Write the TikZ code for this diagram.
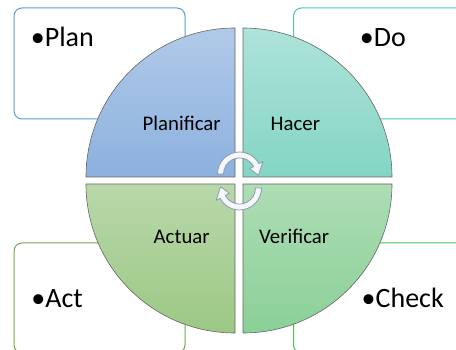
\documentclass[tikz,border=0pt]{standalone}
\usepackage{fontspec}
\setmainfont{Carlito}
\definecolor{bxblue}{HTML}{5B9BD5}
\definecolor{bxteal}{HTML}{4CC7B3}
\definecolor{bxgreen}{HTML}{70AD47}
\definecolor{bxgreenb}{HTML}{4CC25F}
\definecolor{qbluet}{HTML}{B1CAE9}
\definecolor{qblueb}{HTML}{8CB1DE}
\definecolor{qtealt}{HTML}{AEE3D9}
\definecolor{qtealb}{HTML}{84D5C4}
\definecolor{qgrnt}{HTML}{B8D8AA}
\definecolor{qgrnb}{HTML}{9CC884}
\definecolor{qgrbt}{HTML}{ADDDB4}
\definecolor{qgrbb}{HTML}{8BD098}
\definecolor{arrline}{HTML}{8E9BA8}
\definecolor{arrfill}{HTML}{F5F8FC}
\begin{document}
\begin{tikzpicture}[x=1pt,y=1pt,
  infobox/.style={fill=white,line width=1pt,rounded corners=8pt},
  quad/.style={draw=black!60,line width=0.6pt},
  qlabel/.style={inner sep=0pt,font=\fontsize{20.8}{24}\selectfont},
  blabel/.style={inner sep=0pt,font=\fontsize{28}{32}\selectfont},
  cyc/.style={fill=arrfill,draw=arrline,line width=0.8pt,line join=round}]
\useasboundingbox (0,0) rectangle (456,350);
\begin{scope}
\clip (0,0) rectangle (456,350);
% boxes
\draw[infobox,draw=bxblue] (14,231) rectangle (185,342);
\draw[infobox,draw=bxteal] (293.5,231) rectangle (480,342);
\draw[infobox,draw=bxgreen] (14,-3) rectangle (185,107);
\draw[infobox,draw=bxgreenb] (293.5,-3) rectangle (480,107);
\end{scope}
% bullet texts
\node[blabel,anchor=base east] (plan) at (94,303.3) {•Plan};
\node[blabel,anchor=base east] (do) at (406,303.3) {•Do};
\node[blabel,anchor=base east] (act) at (83,42) {•Act};
\node[blabel,anchor=base east] (check) at (444,42) {•Check};
% quadrants
\draw[quad,top color=qbluet,bottom color=qblueb] (235,173) -- (86,173) arc[start angle=180,end angle=90,radius=149] -- cycle;
\draw[quad,top color=qtealt,bottom color=qtealb] (243,173) -- (243,322) arc[start angle=90,end angle=0,radius=149] -- cycle;
\draw[quad,top color=qgrnt,bottom color=qgrnb] (235,166) -- (235,17) arc[start angle=270,end angle=180,radius=149] -- cycle;
\draw[quad,top color=qgrbt,bottom color=qgrbb] (243,166) -- (392,166) arc[start angle=0,end angle=-90,radius=149] -- cycle;
% quadrant labels
\node[qlabel,anchor=base west] (planificar) at (142.5,219.3) {Planificar};
\node[qlabel,anchor=base west] (hacer) at (270.5,219.3) {Hacer};
\node[qlabel,anchor=base west] (actuar) at (153.5,106.3) {Actuar};
\node[qlabel,anchor=base west] (verificar) at (259,106.3) {Verificar};
% circular arrows
\begin{scope}[shift={(239.5,176)}]
\draw[cyc] (180:22) arc[start angle=180,end angle=28,radius=22] -- (28:26.5) -- (-4:19) -- (28:11.5) -- (28:16) arc[start angle=28,end angle=180,radius=16] -- cycle;
\end{scope}
\begin{scope}[shift={(239.5,162)},rotate=180]
\draw[cyc] (180:22) arc[start angle=180,end angle=28,radius=22] -- (28:26.5) -- (-4:19) -- (28:11.5) -- (28:16) arc[start angle=28,end angle=180,radius=16] -- cycle;
\end{scope}
\end{tikzpicture}
\end{document}
